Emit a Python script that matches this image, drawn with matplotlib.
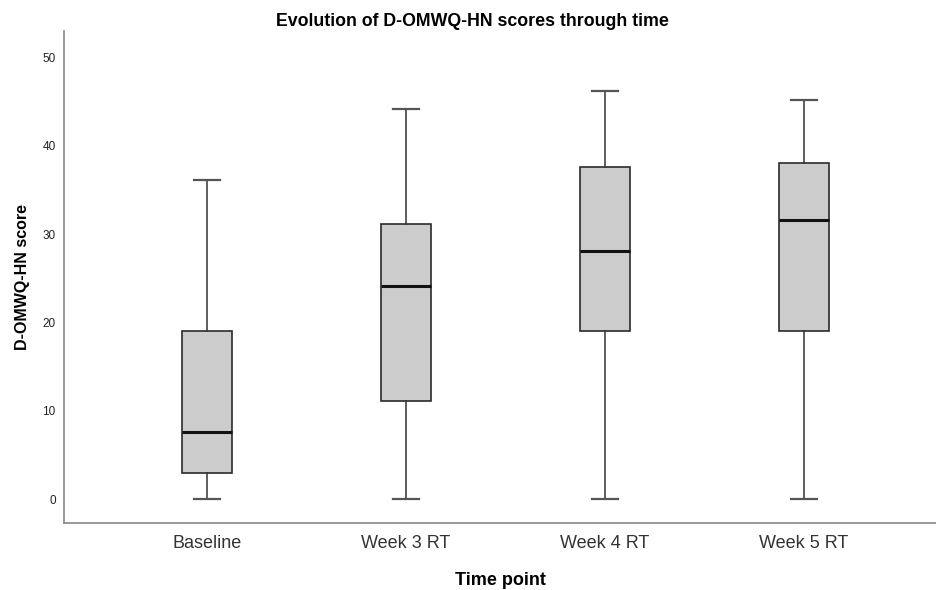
import matplotlib
matplotlib.use("Agg")
import matplotlib.pyplot as plt

# box statistics
time_points = ["Baseline", "Week 3 RT", "Week 4 RT", "Week 5 RT"]
whisker_low = [0, 0, 0, 0]
q1 = [3.0, 11.1, 19.0, 19.0]
median = [7.6, 24.1, 28.1, 31.6]
q3 = [19.0, 31.1, 37.6, 38.1]
whisker_high = [36.1, 44.2, 46.2, 45.2]

plt.rcParams['font.family'] = ['Liberation Sans', 'DejaVu Sans']

stats = []
for i, name in enumerate(time_points):
    stats.append({
        "label": name,
        "whislo": whisker_low[i],
        "q1": q1[i],
        "med": median[i],
        "q3": q3[i],
        "whishi": whisker_high[i],
        "fliers": [],
    })

fig = plt.figure(figsize=(9.36, 5.9), dpi=100)
ax = fig.add_axes([0.0684, 0.1136, 0.9316, 0.834])

ax.bxp(stats, positions=[1, 2, 3, 4], widths=0.255, patch_artist=True,
       showfliers=False, capwidths=0.13,
       boxprops=dict(facecolor="#cccccc", edgecolor="#2b2b2b", linewidth=1.2),
       medianprops=dict(color="#111111", linewidth=2.2),
       whiskerprops=dict(color="#333333", linewidth=1.1),
       capprops=dict(color="#555555", linewidth=1.6))

ax.set_xlim(0.281, 4.663)
ax.set_ylim(-2.7, 53.0)
ax.set_yticks([0, 10, 20, 30, 40, 50])
ax.tick_params(axis="y", length=0, labelsize=8.5, pad=6, labelcolor="#222222")
ax.tick_params(axis="x", length=0, labelsize=13, pad=9, labelcolor="#333333")

for side in ["top", "right"]:
    ax.spines[side].set_visible(False)
for side in ["left", "bottom"]:
    ax.spines[side].set_color("#888888")
    ax.spines[side].set_linewidth(1.2)

ax.set_xlabel("Time point", fontsize=13, fontweight="bold", labelpad=14)
ax.set_ylabel("D-OMWQ-HN score", fontsize=11.5, fontweight="bold", labelpad=9)
fig.suptitle("Evolution of D-OMWQ-HN scores through time", fontsize=12.8,
             fontweight="bold", x=0.505, y=0.978)

fig.savefig("out.png", dpi=100, facecolor="white")
